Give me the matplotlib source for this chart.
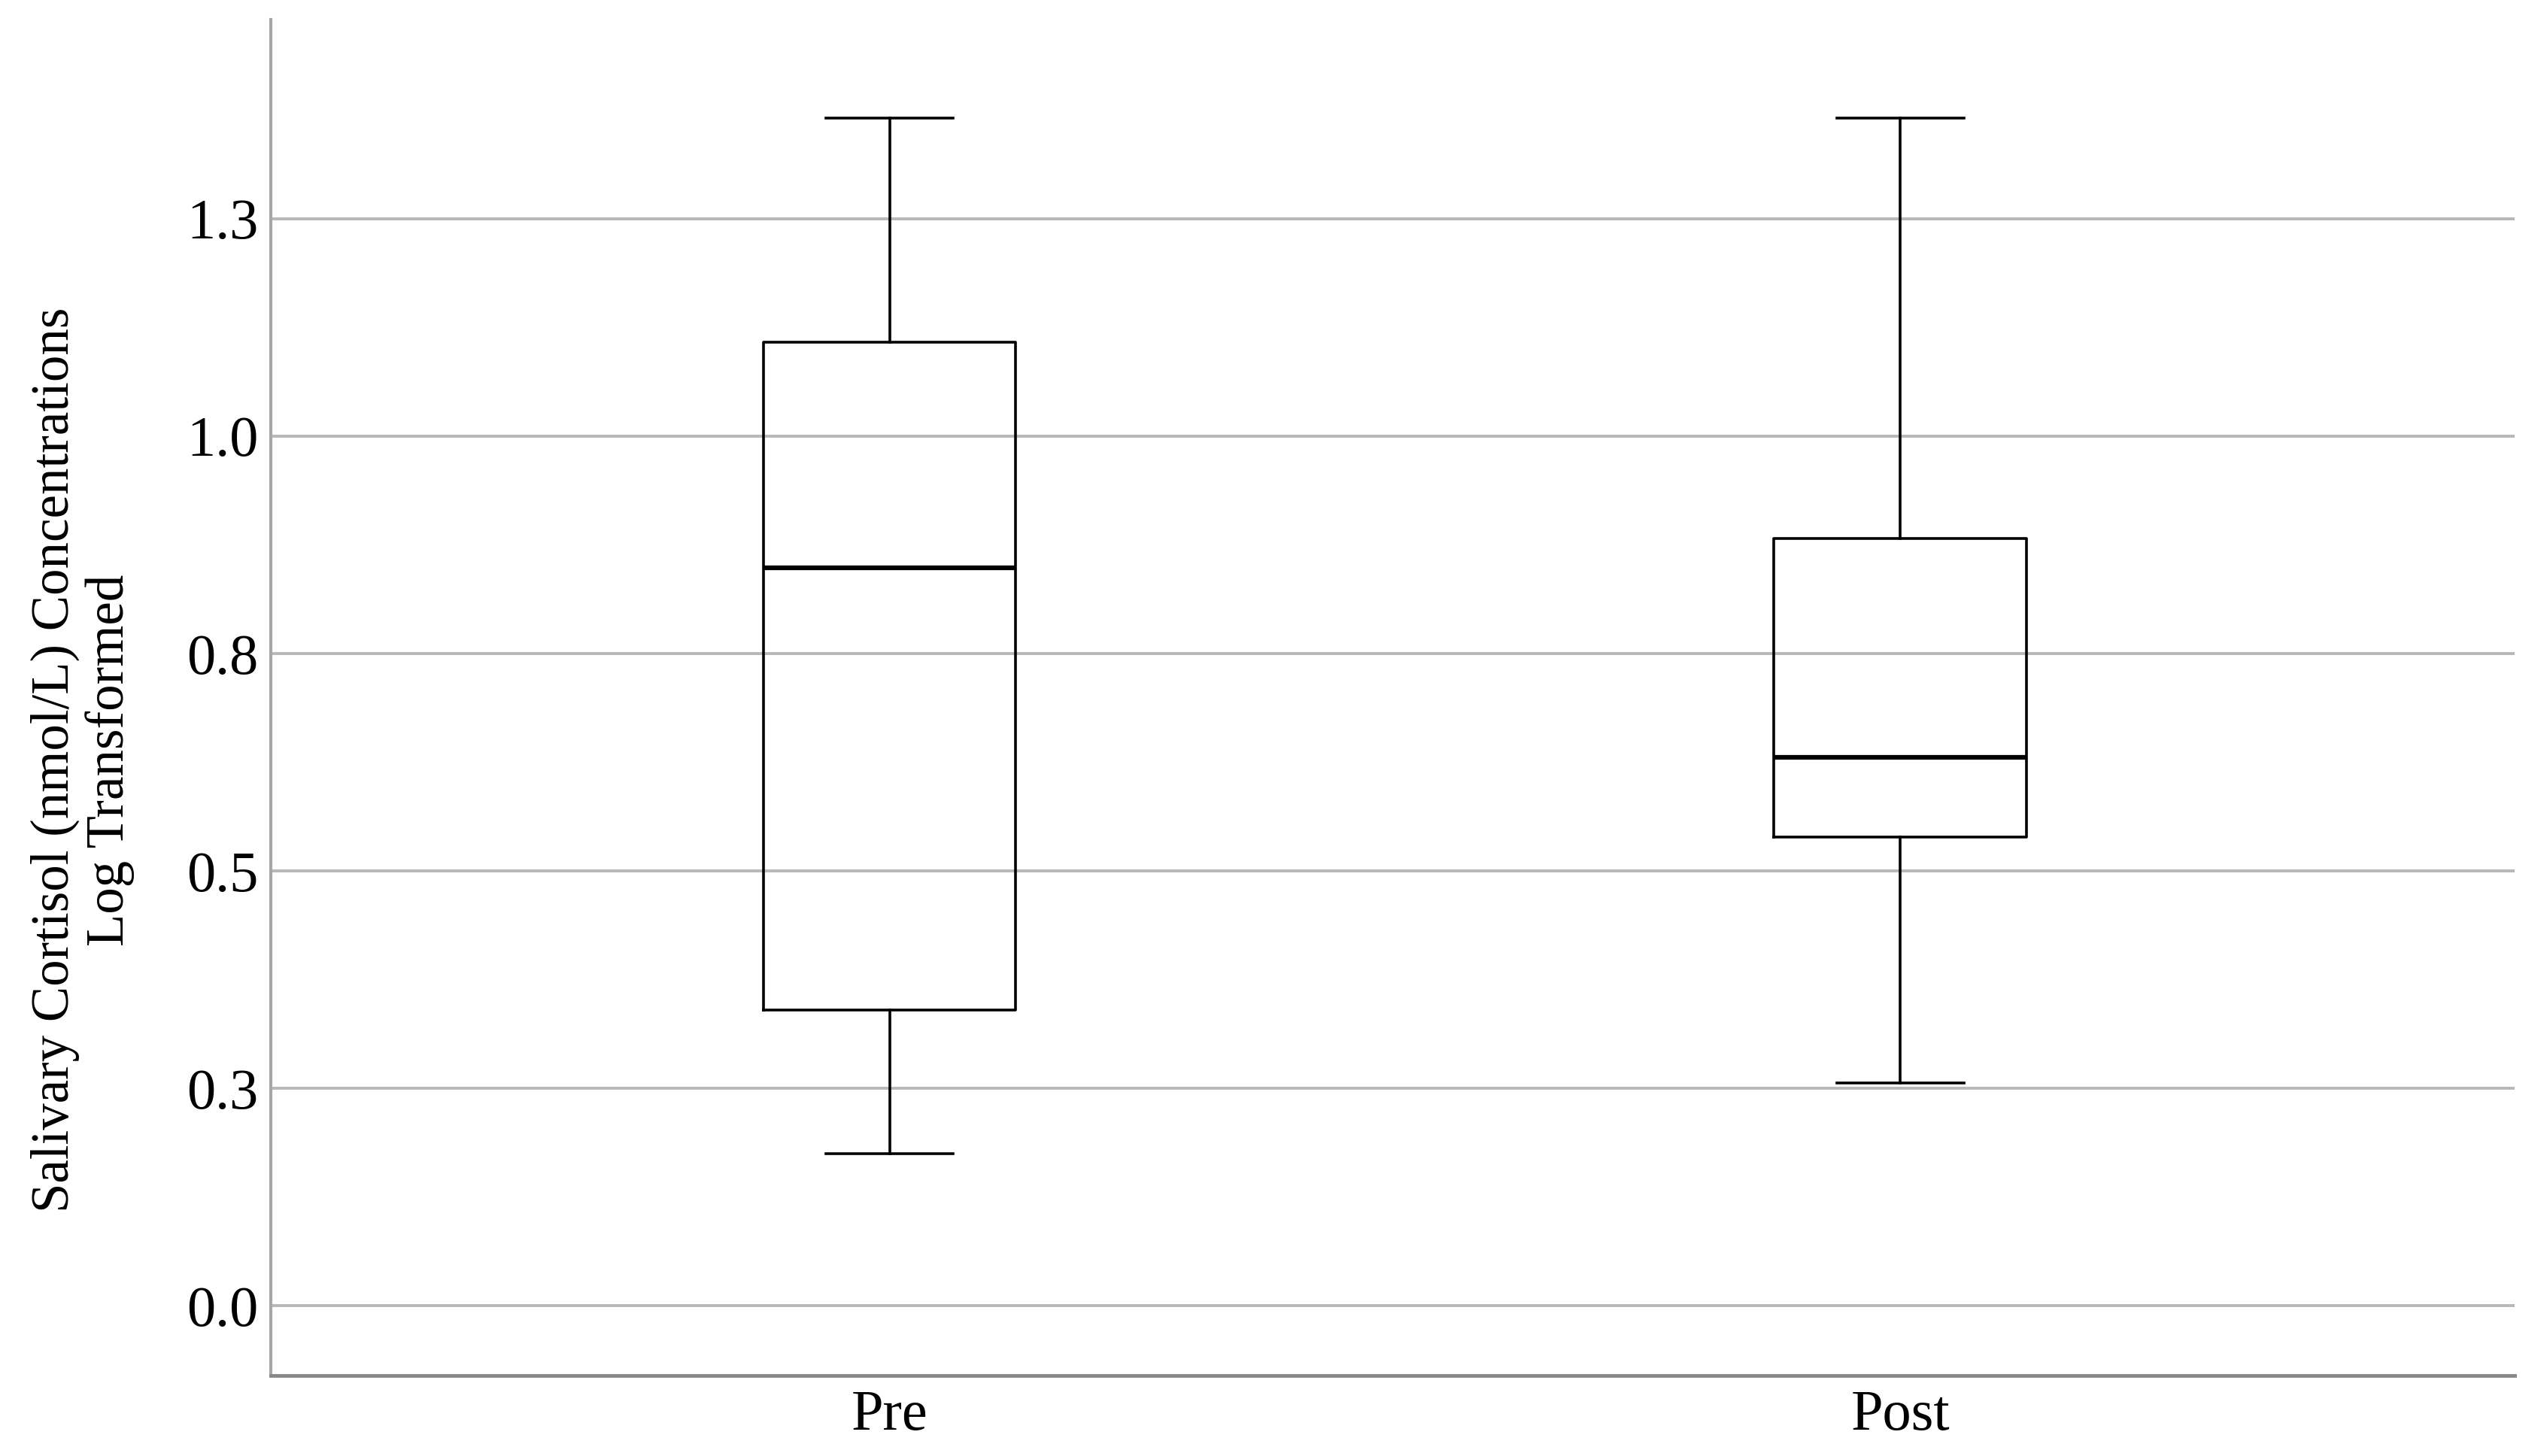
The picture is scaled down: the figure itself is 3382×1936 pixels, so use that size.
import matplotlib
matplotlib.use("Agg")
import matplotlib.pyplot as plt

# box statistics (log-transformed cortisol)
groups = ["Pre", "Post"]
whisker_low = [0.175, 0.256]
q1 = [0.340, 0.539]
median = [0.849, 0.631]
q3 = [1.108, 0.882]
whisker_high = [1.366, 1.366]

yticks = [0.0, 0.25, 0.5, 0.75, 1.0, 1.25]
ytick_labels = ["0.0", "0.3", "0.5", "0.8", "1.0", "1.3"]

plt.rcParams["font.family"] = ["Liberation Serif", "DejaVu Serif"]

fig = plt.figure(figsize=(33.82, 19.36), dpi=100)
ax = fig.add_axes([0.1065, 0.0553, 0.882, 0.9313])

stats = []
for i, g in enumerate(groups):
    stats.append({
        "label": g,
        "whislo": whisker_low[i],
        "q1": q1[i],
        "med": median[i],
        "q3": q3[i],
        "whishi": whisker_high[i],
        "fliers": [],
    })

ax.bxp(stats, positions=[0, 1], widths=0.25, capwidths=0.126,
       showfliers=False, patch_artist=False,
       boxprops=dict(color="black", linewidth=2.6),
       whiskerprops=dict(color="black", linewidth=2.6),
       capprops=dict(color="black", linewidth=2.6),
       medianprops=dict(color="black", linewidth=4.5),
       zorder=3)

ax.set_xlim(-0.612, 1.608)
ax.set_ylim(-0.08, 1.479)
ax.set_yticks(yticks)
ax.set_yticklabels(ytick_labels)
ax.yaxis.grid(True, color="#b8b8b8", linewidth=2.8, zorder=0)
ax.set_axisbelow(True)

for s in ["top", "right"]:
    ax.spines[s].set_visible(False)
ax.spines["left"].set_color("#a8a8a8")
ax.spines["left"].set_linewidth(3)
ax.spines["bottom"].set_color("#888888")
ax.spines["bottom"].set_linewidth(3.5)

ax.tick_params(axis="both", length=0, labelsize=55, labelcolor="black")
ax.tick_params(axis="y", pad=12)
ax.tick_params(axis="x", pad=14)

ax.set_ylabel("Salivary Cortisol (nmol/L) Concentrations\nLog Transformed",
              fontsize=51, linespacing=1.15, multialignment="center")
ax.yaxis.set_label_coords(-0.0607, 0.454)

fig.savefig("out.png", dpi=100, facecolor="white")
